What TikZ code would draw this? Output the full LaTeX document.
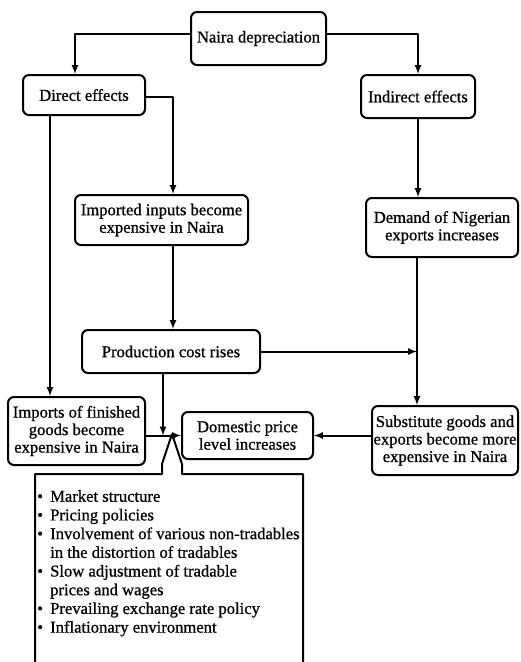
\documentclass[tikz,border=0pt]{standalone}
\usepackage{fontspec}
\setmainfont{Liberation Serif}[BoldFont=Liberation Serif,BoldFeatures={FakeBold=0.8}]
\begin{document}
\begin{tikzpicture}[>=latex,line join=bevel,x=1pt,y=-1pt,
  box/.style={draw,rounded corners=6pt,line width=2pt,align=center,inner sep=0pt,
    font=\fontsize{16.6}{17.5}\selectfont\bfseries},
  link/.style={black,line width=2pt,->},
  item/.style={anchor=north west,align=left,inner sep=0pt,
    font=\fontsize{16.6}{18.7}\selectfont\bfseries}]
%%
\useasboundingbox (0,0) rectangle (521,662);
\node (node_naira) at (258.5,38.5) [box,minimum width=135pt,minimum height=53pt] {Naira depreciation};
  \node (node_direct) at (84,95) [box,minimum width=122pt,minimum height=40pt] {Direct effects};
  \node (node_indirect) at (418,96.5) [box,minimum width=114pt,minimum height=43pt] {Indirect effects};
  \node (node_imported) at (161.5,220) [box,minimum width=173pt,minimum height=50pt] {Imported inputs become\\expensive in Naira};
  \node (node_demand) at (442,227.5) [box,minimum width=152pt,minimum height=59pt] {Demand of Nigerian\\exports increases};
  \node (node_production) at (171,351.5) [box,minimum width=178pt,minimum height=43pt] {Production cost rises};
  \node (node_imports) at (76.5,431) [box,minimum width=137pt,minimum height=68pt] {Imports of finished\\goods become\\expensive in Naira};
  \node (node_domestic) at (247.5,435.5) [box,minimum width=131pt,minimum height=47pt] {Domestic price\\level increases};
  \node (node_substitute) at (445,440.5) [box,minimum width=146pt,minimum height=69pt] {Substitute goods and\\exports become more\\expensive in Naira};
  \coordinate (col_r) at (417,0);
  \coordinate (node_tip) at (172,434);
  \draw [link] ([yshift=5pt]node_naira.west) -| ([xshift=-9pt]node_direct.north);
  \draw [link] ([yshift=5pt]node_naira.east) -| (node_indirect.north);
  \draw [link] ([yshift=-2pt]node_direct.east) -| ([xshift=11.5pt]node_imported.north);
  \draw [link] ([xshift=-34pt]node_direct.south) -- ([xshift=-34pt]node_direct.south |- node_imports.north);
  \draw [link] ([xshift=11.5pt]node_imported.south) -- ([xshift=11.5pt]node_imported.south |- node_production.north);
  \draw [link] (node_indirect.south) -- (node_indirect.south |- node_demand.north);
  \draw [link] (node_demand.south -| col_r) -- (node_substitute.north -| col_r);
  \draw [link] (node_production.east) -- (node_production.east -| col_r);
  \draw [link] (node_substitute.west |- node_domestic.east) -- (node_domestic.east);
  \draw [link] (node_imports.east |- node_domestic.west) -- (node_domestic.west);
  \draw [link] ([xshift=-8pt]node_production.south) -- ([xshift=-8pt]node_production.south |- node_domestic.west);
%
\draw [line width=2pt] (35,663) -- (35,474) -- (162,474) -- (162,464) -- (node_tip)
  -- (182,464) -- (182,474) -- (303,474) -- (303,663);
\node (node_factors) at (37,490) [item] {%
  \makebox[13pt][l]{\textbullet}Market structure\\
  \makebox[13pt][l]{\textbullet}Pricing policies\\
  \makebox[13pt][l]{\textbullet}Involvement of various non-tradables\\
  \hspace*{13pt}in the distortion of tradables\\
  \makebox[13pt][l]{\textbullet}Slow adjustment of tradable\\
  \hspace*{13pt}prices and wages\\
  \makebox[13pt][l]{\textbullet}Prevailing exchange rate policy\\
  \makebox[13pt][l]{\textbullet}Inflationary environment};
%
\end{tikzpicture}
\end{document}
